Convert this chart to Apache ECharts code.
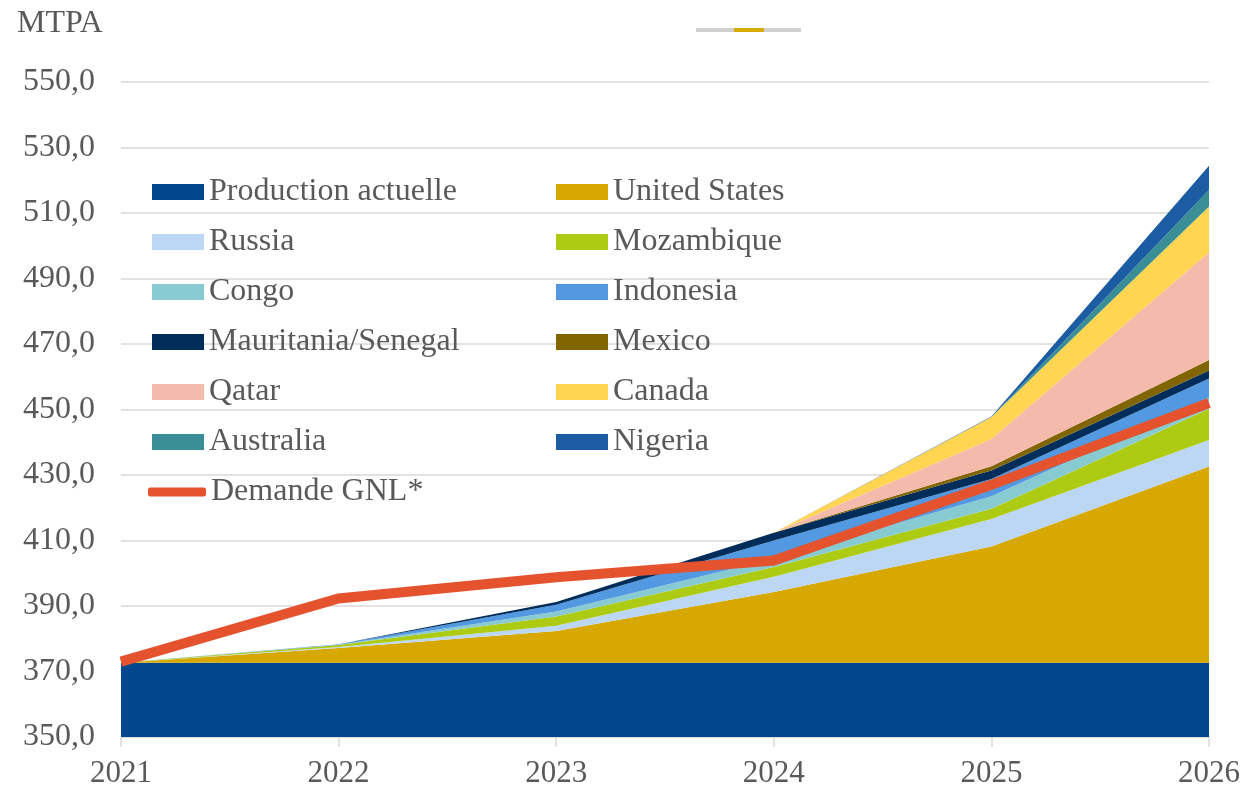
<!DOCTYPE html>
<html>
<head>
<meta charset="utf-8">
<script src="https://cdn.jsdelivr.net/npm/echarts@6/dist/echarts.min.js"></script>
<style>html,body{margin:0;padding:0;background:#fff}#c{width:1245px;height:789px}</style>
</head>
<body>
<div id="c"></div>
<script>
const years = ['2021', '2022', '2023', '2024', '2025', '2026'];
const yTicks = [350, 370, 390, 410, 430, 450, 470, 490, 510, 530, 550];

const productionActuelle = [372.7, 372.7, 372.7, 372.7, 372.7, 372.7];
const unitedStates       = [0, 4.5, 9.7, 21.6, 35.5, 59.9];
const russia             = [0, 0.3, 1.6, 4.6, 8.4, 8.1];
const mozambique         = [0, 0.6, 2.8, 3.0, 3.1, 9.5];
const congo              = [0, 0.1, 1.5, 2.5, 3.8, 3.5];
const indonesia          = [0, 0.1, 2.1, 5.6, 5.3, 5.8];
const mauritaniaSenegal  = [0, 0.05, 0.8, 2.4, 2.6, 2.4];
const mexico             = [0, 0, 0, 0, 1.3, 3.2];
const qatar              = [0, 0, 0, 0, 8.3, 32.9];
const canada             = [0, 0, 0, 0, 6.7, 14.0];
const australia          = [0, 0, 0, 0, 0, 5.0];
const nigeria            = [0, 0, 0, 0, 0.2, 7.4];
const demandeGNL         = [373.0, 392.3, 398.8, 403.9, 427.0, 452.0];

const FONT = 'Liberation Serif';
const TXT = '#595959';

const stackDefs = [
  ['Production actuelle', productionActuelle, '#00478D'],
  ['United States', unitedStates, '#D7A800'],
  ['Russia', russia, '#BCD7F3'],
  ['Mozambique', mozambique, '#AECB14'],
  ['Congo', congo, '#88CAD2'],
  ['Indonesia', indonesia, '#5399E1'],
  ['Mauritania/Senegal', mauritaniaSenegal, '#002D5A'],
  ['Mexico', mexico, '#816500'],
  ['Qatar', qatar, '#F4BBAD'],
  ['Canada', canada, '#FFD552'],
  ['Australia', australia, '#3A8F97'],
  ['Nigeria', nigeria, '#1C5CA3']
];

const series = stackDefs.map(([name, data, color]) => ({
  name, type: 'line', stack: 'total', data,
  symbol: 'none', smooth: false,
  lineStyle: { width: 0, color },
  itemStyle: { color },
  areaStyle: { color, opacity: 1 },
  emphasis: { disabled: true },
  z: 2
}));
series.push({
  name: 'Demande GNL*', type: 'line', data: demandeGNL,
  symbol: 'none', smooth: false,
  lineStyle: { width: 10, color: '#E4532E', cap: 'butt', join: 'miter' },
  itemStyle: { color: '#E4532E' },
  emphasis: { disabled: true },
  z: 5
});

const legendText = { fontFamily: FONT, fontSize: 32, color: TXT, lineHeight: 32 };
const legendCommon = {
  orient: 'vertical', padding: 0, itemGap: 18,
  itemWidth: 52, itemHeight: 16, icon: 'rect',
  textStyle: legendText, selectedMode: false
};

const option = {
  animation: false,
  backgroundColor: '#ffffff',
  title: {
    text: 'MTPA', left: 12, top: 3,
    textStyle: { fontFamily: FONT, fontSize: 32, fontWeight: 'normal', color: TXT }
  },
  graphic: [
    { type: 'rect', left: 696, top: 28, shape: { width: 105, height: 4 }, style: { fill: '#D0D0D0' } },
    { type: 'rect', left: 734, top: 28, shape: { width: 30, height: 4 }, style: { fill: '#D9AA00' } }
  ],
  legend: [
    Object.assign({}, legendCommon, {
      left: 152, top: 176,
      data: ['Production actuelle', 'Russia', 'Congo', 'Mauritania/Senegal', 'Qatar', 'Australia']
    }),
    Object.assign({}, legendCommon, {
      left: 556, top: 176,
      data: ['United States', 'Mozambique', 'Indonesia', 'Mexico', 'Canada', 'Nigeria']
    }),
    Object.assign({}, legendCommon, {
      left: 148, top: 476, itemWidth: 58, itemHeight: 9, icon: 'roundRect',
      data: ['Demande GNL*']
    })
  ],
  grid: { left: 121, right: 36, top: 82, bottom: 51, containLabel: false },
  xAxis: {
    type: 'category', data: years, boundaryGap: false,
    axisLine: { lineStyle: { color: '#D9D9D9', width: 1.5 } },
    axisTick: { show: true, length: 10, lineStyle: { color: '#D9D9D9', width: 1.5 } },
    axisLabel: { fontFamily: FONT, fontSize: 31, color: TXT, margin: 21 },
    splitLine: { show: false }
  },
  yAxis: {
    type: 'value', min: yTicks[0], max: yTicks[yTicks.length - 1], interval: 20,
    axisLine: { show: false }, axisTick: { show: false },
    axisLabel: {
      fontFamily: FONT, fontSize: 32, color: TXT, margin: 26,
      formatter: v => v.toFixed(1).replace('.', ',')
    },
    splitLine: { lineStyle: { color: '#D9D9D9', width: 1.5 } }
  },
  series
};

echarts.init(document.getElementById('c'), null, { renderer: 'canvas' }).setOption(option);
</script>
</body>
</html>
